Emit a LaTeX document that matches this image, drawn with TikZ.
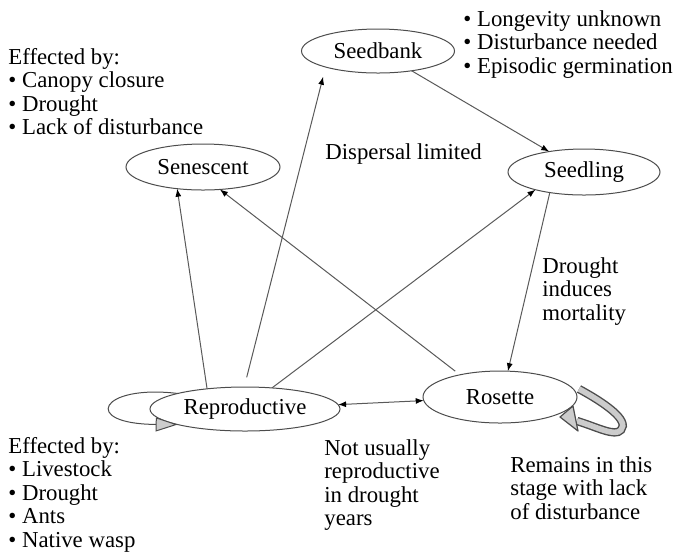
\documentclass[tikz,border=0pt]{standalone}
\usepackage{fontspec}
\setmainfont{Liberation Serif}
\usetikzlibrary{positioning,arrows.meta,shapes.geometric}

\begin{document}
\begin{tikzpicture}[x=0.5pt, y=-0.5pt,
        font=\fontsize{11.4}{11.75}\selectfont,
        stage/.style={ellipse, draw=black!70, line width=0.5pt, inner sep=0pt, outer sep=0pt, minimum width=77pt, minimum height=23pt},
        link/.style={draw=black!65, line width=0.5pt, -{Latex[length=4pt, width=3pt, color=black]}},
        twoway/.style={link, {Latex[length=4pt, width=3pt, color=black]}-{Latex[length=4pt, width=3pt, color=black]}},
        note/.style={align=left, anchor=north west, inner sep=0pt},
        band/.style={line width=4.2pt, draw=black!70},
        bandfill/.style={line width=2.8pt, draw=black!20},
        bandhead/.style={fill=black!20, draw=black!70, line width=0.6pt, line join=round}]

        \useasboundingbox (0,0) rectangle (680,554);

        % Stages of the life cycle
        \node[stage, minimum width=76.5pt, minimum height=22pt] (seedbank) at (378,51) {Seedbank};
        \node[stage] (senescent) at (203,167) {Senescent};
        \node[stage, minimum width=76pt] (seedling) at (584,172) {Seedling};
        \node[stage, minimum height=26pt] (rosette) at (500,397) {Rosette};
        \node[stage, minimum width=95pt, minimum height=22pt] (repro) at (245,409) {Reproductive};

        % Notes
        \node[note] (effsen) at (8,48) {Effected by:\\ \textbullet\ Canopy closure\\ \textbullet\ Drought\\ \textbullet\ Lack of disturbance};
        \node[note] (bank) at (463,10) {\textbullet\ Longevity unknown\\ \textbullet\ Disturbance needed\\ \textbullet\ Episodic germination};
        \node[note] (dispersal) at (325,143) {Dispersal limited};
        \node[note] (drought) at (542,257) {Drought\\ induces\\ mortality};
        \node[note] (notrep) at (324,439) {Not usually\\ reproductive\\ in drought\\ years};
        \node[note] (remains) at (510,456) {Remains in this\\ stage with lack\\ of disturbance};
        \node[note] (effrep) at (8,437) {Effected by:\\ \textbullet\ Livestock\\ \textbullet\ Drought\\ \textbullet\ Ants\\ \textbullet\ Native wasp};

        % Transitions
        \draw[link] (seedbank) -- (seedling);
        \draw[link] (seedling.211) -- (rosette.73);
        \draw[twoway] (repro) -- (rosette);
        \draw[link, shorten <=3pt] (rosette.151) -- (senescent.307);
        \draw[link] (repro.152) -- (senescent.220);
        \draw[link, shorten <=5pt, shorten >=5pt] (repro.92) -- (seedbank.197);
        \draw[link] (repro.38) -- (seedling.200);

        % Reproductive loop
        \draw[draw=black!70, line width=0.5pt, -{Triangle[length=11pt, width=7pt, fill=black!20]}]
            (repro.167) .. controls (100,384) and (80,424) .. (repro.193);

        % Rosette loop (ribbon arrow)
        \coordinate (bandA) at (579,389);
        \coordinate (bandB) at (577,421);
        \coordinate (tipR) at (560,417);
        \draw[band] (bandA) .. controls (603,402) and (630,420) .. (621,430) .. controls (615,437) and (597,427) .. (bandB);
        \draw[bandfill] (bandA) .. controls (603,402) and (630,420) .. (621,430) .. controls (615,437) and (597,427) .. (bandB);
        \filldraw[bandhead] (tipR) -- (573,406) -- (578,431) -- cycle;
    \end{tikzpicture}
\end{document}
